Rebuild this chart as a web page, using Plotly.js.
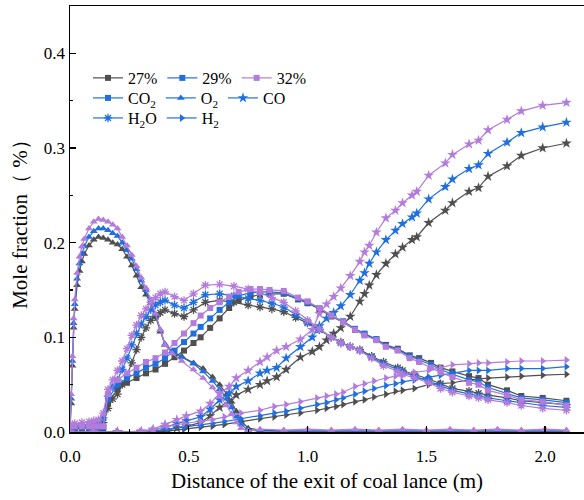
<!DOCTYPE html>
<html>
<head>
<meta charset="utf-8">
<script src="https://cdn.plot.ly/plotly-3.0.1.min.js"></script>
<style>html,body{margin:0;padding:0;background:#fff;}#chart{width:584px;height:500px;}</style>
</head>
<body>
<div id="chart"></div>
<script>
// ---------- data ----------
const groupNames = ['27%', '29%', '32%'];
const groupColors = ['#4f4f4f', '#1f6fdf', '#b37bdb'];
const speciesNames = ['CO<sub>2</sub>', 'O<sub>2</sub>', 'CO', 'H<sub>2</sub>O', 'H<sub>2</sub>'];

// O2
const xO2 = [0,0.005,0.01,0.015,0.02,0.03,0.04,0.05,0.06,0.08,0.1,0.12,0.14,0.16,0.18,0.2,0.22,0.24,0.26,0.28,0.3,0.32,0.34,0.36,0.38,0.4,0.43,0.47,0.52,0.56,0.6,0.63,0.66,0.68,0.7,0.72,0.75,0.8,0.9,1.0,1.1,1.2,1.3,1.4,1.5,1.6,1.7,1.8,1.9,2.0,2.09];
const o2_27 = [0.0,0.03,0.07,0.11,0.13,0.155,0.17,0.18,0.188,0.197,0.203,0.206,0.205,0.203,0.2,0.198,0.193,0.185,0.176,0.165,0.153,0.145,0.136,0.122,0.106,0.092,0.085,0.08,0.073,0.067,0.058,0.05,0.04,0.032,0.022,0.012,0.004,0.002,0.001,0.001,0.001,0.001,0.001,0.001,0.001,0.001,0.001,0.001,0.001,0.001,0.001];
const o2_29 = [0.0,0.035,0.075,0.115,0.135,0.162,0.178,0.188,0.196,0.206,0.212,0.215,0.215,0.213,0.21,0.207,0.2,0.192,0.183,0.172,0.16,0.15,0.138,0.124,0.108,0.093,0.085,0.079,0.072,0.064,0.054,0.045,0.035,0.026,0.016,0.008,0.002,0.001,0.001,0.001,0.001,0.001,0.001,0.001,0.001,0.001,0.001,0.001,0.001,0.001,0.001];
const o2_32 = [0.005,0.04,0.08,0.12,0.14,0.168,0.185,0.196,0.204,0.215,0.222,0.225,0.224,0.222,0.219,0.215,0.206,0.197,0.187,0.175,0.163,0.152,0.14,0.125,0.108,0.092,0.083,0.075,0.066,0.057,0.047,0.037,0.028,0.019,0.01,0.004,0.001,0.003,0.002,0.003,0.002,0.003,0.002,0.003,0.002,0.003,0.002,0.003,0.002,0.003,0.002];

// CO2
const xCO2 = [0,0.02,0.05,0.08,0.1,0.12,0.14,0.16,0.2,0.24,0.28,0.32,0.36,0.4,0.44,0.48,0.52,0.55,0.59,0.63,0.67,0.71,0.76,0.8,0.84,0.9,0.96,1.0,1.05,1.1,1.15,1.2,1.24,1.29,1.33,1.38,1.43,1.47,1.52,1.56,1.61,1.68,1.72,1.76,1.84,1.9,1.99,2.09];
const co2_27 = [0.004,0.004,0.004,0.004,0.004,0.004,0.004,0.03,0.045,0.052,0.057,0.062,0.066,0.072,0.079,0.086,0.094,0.1,0.11,0.12,0.131,0.139,0.143,0.145,0.146,0.146,0.14,0.136,0.13,0.122,0.116,0.108,0.103,0.098,0.092,0.088,0.081,0.078,0.073,0.068,0.064,0.059,0.057,0.05,0.044,0.038,0.036,0.033];
const co2_29 = [0.005,0.005,0.005,0.005,0.005,0.005,0.005,0.035,0.05,0.057,0.062,0.068,0.072,0.078,0.086,0.095,0.104,0.111,0.12,0.129,0.137,0.144,0.147,0.148,0.148,0.147,0.141,0.137,0.131,0.123,0.117,0.109,0.104,0.098,0.091,0.087,0.08,0.076,0.071,0.066,0.061,0.055,0.053,0.047,0.041,0.036,0.034,0.031];
const co2_32 = [0.006,0.006,0.006,0.006,0.006,0.006,0.006,0.04,0.055,0.062,0.068,0.074,0.078,0.084,0.094,0.104,0.115,0.123,0.131,0.137,0.143,0.148,0.151,0.151,0.15,0.149,0.142,0.138,0.131,0.123,0.116,0.108,0.102,0.097,0.09,0.086,0.078,0.074,0.068,0.063,0.058,0.052,0.05,0.044,0.039,0.034,0.032,0.028];

// H2O
const xH2O = [0,0.02,0.05,0.08,0.1,0.12,0.14,0.16,0.18,0.2,0.22,0.24,0.26,0.28,0.3,0.32,0.34,0.36,0.38,0.4,0.44,0.48,0.52,0.57,0.63,0.69,0.75,0.8,0.85,0.9,0.95,1.0,1.05,1.1,1.14,1.18,1.22,1.27,1.32,1.38,1.4,1.45,1.51,1.56,1.61,1.68,1.72,1.76,1.84,1.9,1.99,2.09];
const h2o_27 = [0.004,0.004,0.005,0.005,0.005,0.006,0.01,0.025,0.035,0.04,0.05,0.06,0.073,0.087,0.1,0.11,0.118,0.122,0.126,0.129,0.125,0.122,0.129,0.137,0.139,0.137,0.134,0.132,0.13,0.127,0.121,0.115,0.108,0.1,0.095,0.09,0.087,0.08,0.074,0.068,0.065,0.061,0.056,0.051,0.046,0.043,0.041,0.039,0.036,0.033,0.031,0.029];
const h2o_29 = [0.006,0.006,0.007,0.007,0.008,0.009,0.015,0.038,0.048,0.055,0.066,0.078,0.092,0.104,0.114,0.122,0.129,0.134,0.137,0.139,0.134,0.131,0.137,0.145,0.146,0.144,0.141,0.139,0.136,0.132,0.124,0.116,0.108,0.1,0.094,0.09,0.086,0.079,0.072,0.066,0.063,0.059,0.054,0.049,0.044,0.04,0.038,0.036,0.033,0.031,0.028,0.026];
const h2o_32 = [0.008,0.009,0.01,0.011,0.012,0.013,0.02,0.045,0.055,0.065,0.075,0.088,0.102,0.113,0.123,0.13,0.137,0.142,0.146,0.148,0.143,0.139,0.146,0.155,0.156,0.154,0.151,0.147,0.142,0.137,0.128,0.118,0.109,0.1,0.094,0.09,0.086,0.078,0.07,0.064,0.061,0.057,0.052,0.046,0.042,0.038,0.036,0.034,0.031,0.028,0.025,0.023];

// CO
const xCO = [0,0.1,0.2,0.3,0.35,0.4,0.45,0.49,0.55,0.59,0.63,0.67,0.7,0.75,0.8,0.83,0.87,0.91,0.97,1.02,1.05,1.08,1.11,1.14,1.18,1.22,1.24,1.26,1.29,1.33,1.37,1.4,1.44,1.46,1.51,1.58,1.61,1.68,1.72,1.76,1.84,1.9,1.99,2.09];
const co_27 = [0,0,0,0,0,0.002,0.004,0.006,0.01,0.017,0.026,0.033,0.039,0.045,0.05,0.054,0.058,0.066,0.079,0.085,0.09,0.097,0.104,0.11,0.122,0.138,0.146,0.155,0.166,0.178,0.188,0.195,0.203,0.206,0.221,0.234,0.242,0.254,0.258,0.27,0.281,0.292,0.3,0.305];
const co_29 = [0,0,0,0,0.002,0.005,0.009,0.012,0.016,0.024,0.034,0.041,0.048,0.054,0.062,0.065,0.068,0.078,0.09,0.1,0.112,0.12,0.126,0.133,0.145,0.16,0.168,0.178,0.19,0.203,0.213,0.22,0.227,0.231,0.246,0.259,0.267,0.278,0.282,0.294,0.306,0.316,0.322,0.327];
const co_32 = [0,0,0,0.001,0.003,0.008,0.013,0.017,0.022,0.03,0.041,0.048,0.057,0.065,0.074,0.079,0.086,0.09,0.098,0.108,0.125,0.135,0.143,0.152,0.165,0.18,0.19,0.197,0.211,0.226,0.234,0.242,0.25,0.254,0.271,0.284,0.293,0.304,0.308,0.319,0.33,0.339,0.345,0.348];

// H2
const xH2 = [0,0.1,0.2,0.3,0.35,0.41,0.48,0.55,0.6,0.65,0.72,0.8,0.86,0.91,0.97,1.04,1.08,1.12,1.15,1.2,1.24,1.28,1.33,1.37,1.4,1.45,1.51,1.56,1.61,1.68,1.72,1.76,1.84,1.9,1.99,2.09];
const h2_27 = [0,0,0,0,0,0.001,0.003,0.005,0.006,0.008,0.011,0.014,0.016,0.018,0.02,0.023,0.025,0.027,0.029,0.032,0.034,0.037,0.04,0.043,0.044,0.046,0.05,0.051,0.052,0.055,0.056,0.057,0.058,0.059,0.06,0.061];
const h2_29 = [0,0,0,0,0.001,0.003,0.005,0.007,0.009,0.011,0.014,0.017,0.02,0.022,0.025,0.029,0.031,0.034,0.036,0.04,0.043,0.046,0.049,0.051,0.053,0.055,0.058,0.06,0.062,0.065,0.065,0.065,0.067,0.067,0.067,0.069];
const h2_32 = [0,0,0,0,0.002,0.006,0.009,0.011,0.013,0.016,0.02,0.023,0.027,0.029,0.032,0.036,0.038,0.04,0.042,0.048,0.051,0.054,0.057,0.059,0.06,0.063,0.065,0.068,0.071,0.072,0.073,0.073,0.074,0.075,0.075,0.076];

const xTickVals = [0, 0.5, 1.0, 1.5, 2.0];
const yTickVals = [0, 0.1, 0.2, 0.3, 0.4];

// ---------- build ----------
const species = [
  {x: xCO2, ys: [co2_27, co2_29, co2_32], symbol: 'square', size: 6},
  {x: xO2,  ys: [o2_27, o2_29, o2_32],   symbol: 'triangle-up', size: 7},
  {x: xCO,  ys: [co_27, co_29, co_32],   symbol: 'star', size: 8},
  {x: xH2O, ys: [h2o_27, h2o_29, h2o_32], symbol: 'asterisk-open', size: 7},
  {x: xH2,  ys: [h2_27, h2_29, h2_32],   symbol: 'triangle-right', size: 7}
];

const traces = [];
for (let g = 0; g < 3; g++) {
  species.forEach(sp => {
    traces.push({
      type: 'scatter', mode: 'lines+markers',
      x: sp.x, y: sp.ys[g], showlegend: false,
      line: {color: groupColors[g], width: 1.2},
      marker: {symbol: sp.symbol, size: sp.size, color: groupColors[g],
               line: {color: groupColors[g], width: sp.symbol === 'asterisk-open' ? 1.3 : 0}}
    });
  });
}
// legend rows
for (let g = 0; g < 3; g++) {
  traces.push({type: 'scatter', mode: 'lines+markers', x: [null], y: [null],
    name: groupNames[g], legend: 'legend',
    line: {color: groupColors[g], width: 1.2},
    marker: {symbol: 'square', size: 6, color: groupColors[g]}});
}
species.forEach((sp, i) => {
  traces.push({type: 'scatter', mode: 'lines+markers', x: [null], y: [null],
    name: speciesNames[i], legend: i < 3 ? 'legend2' : 'legend3',
    line: {color: groupColors[1], width: 1.2},
    marker: {symbol: sp.symbol, size: sp.size, color: groupColors[1],
             line: {color: groupColors[1], width: sp.symbol === 'asterisk-open' ? 1.3 : 0}}});
});

const fontFam = 'Liberation Serif, Times New Roman, serif';
const legBase = {orientation: 'h', xanchor: 'left', yanchor: 'middle', x: 0.035,
  bgcolor: 'rgba(0,0,0,0)', font: {family: fontFam, size: 16, color: '#000'},
  itemwidth: 30, tracegroupgap: 0, traceorder: 'normal'};

const layout = {
  width: 584, height: 500,
  margin: {l: 70, r: 0, t: 6, b: 68},
  paper_bgcolor: '#fff', plot_bgcolor: '#fff',
  font: {family: fontFam, color: '#000'},
  xaxis: {range: [0, 2.164], showline: true, linewidth: 1.5, linecolor: '#000', mirror: true,
    ticks: 'inside', ticklen: 6, tickwidth: 1.2, tickcolor: '#000', ticklabelstandoff: 8,
    tickvals: xTickVals, tickformat: '.1f', showgrid: false, zeroline: false,
    tickfont: {family: fontFam, size: 17},
    minor: {ticks: 'inside', ticklen: 3, dtick: 0.25, tickcolor: '#000', showgrid: false},
    title: {text: 'Distance of the exit of coal lance (m)', font: {family: fontFam, size: 21}, standoff: 8}},
  yaxis: {range: [0, 0.45], showline: true, linewidth: 1.5, linecolor: '#000',
    ticks: 'inside', ticklen: 6, tickwidth: 1.2, tickcolor: '#000',
    tickvals: yTickVals, tickformat: '.1f', showgrid: false, zeroline: false,
    tickfont: {family: fontFam, size: 17},
    minor: {ticks: 'inside', ticklen: 3, dtick: 0.05, tickcolor: '#000', showgrid: false},
    title: {text: 'Mole fraction（ %）', font: {family: fontFam, size: 21}, standoff: 10}},
  legend: Object.assign({}, legBase, {y: 0.831}),
  legend2: Object.assign({}, legBase, {y: 0.784}),
  legend3: Object.assign({}, legBase, {y: 0.737}),
  showlegend: true
};

Plotly.newPlot('chart', traces, layout, {displayModeBar: false, staticPlot: true});
</script>
</body>
</html>
